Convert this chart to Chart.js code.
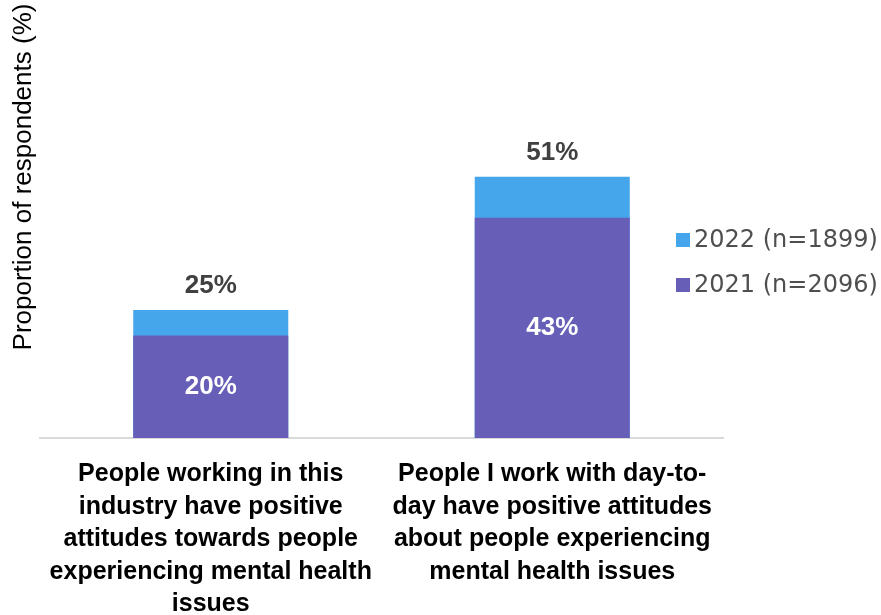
<!DOCTYPE html>
<html>
<head>
<meta charset="utf-8">
<script src="https://cdn.jsdelivr.net/npm/chart.js@4/dist/chart.umd.min.js"></script>
<style>
  html, body { margin: 0; padding: 0; background: #fff; }
  #wrap { width: 881px; height: 615px; }
</style>
</head>
<body>
<div id="wrap"><canvas id="graf"></canvas></div>
<script>
// hodnoty
var kategorie = [
  ["People working in this", "industry have positive", "attitudes towards people", "experiencing mental health", "issues"],
  ["People I work with day-to-", "day have positive attitudes", "about people experiencing", "mental health issues"]
];
var rok2022 = [25, 51];
var rok2021 = [20, 43];
var nazvy = ["2022 (n=1899)", "2021 (n=2096)"];
var barvy = ["#46a6ec", "#665eb7"];

// popisky hodnot nad a uvnitř sloupců
var popisky = {
  id: "popisky",
  afterDatasetsDraw: function (chart) {
    var ctx = chart.ctx;
    ctx.save();
    ctx.textAlign = "center";
    ctx.textBaseline = "middle";
    ctx.font = "bold 26px 'Liberation Sans', Arial, sans-serif";
    chart.getDatasetMeta(1).data.forEach(function (bar, i) {
      ctx.fillStyle = "#404040";
      ctx.fillText(rok2022[i] + "%", bar.x, bar.y - 24);
    });
    chart.getDatasetMeta(0).data.forEach(function (bar, i) {
      ctx.fillStyle = "#ffffff";
      ctx.fillText(rok2021[i] + "%", bar.x, (bar.y + bar.base) / 2);
    });
    ctx.restore();
  }
};

// legenda vpravo a popis osy y
var legenda = {
  id: "legenda",
  afterDraw: function (chart) {
    var ctx = chart.ctx;
    ctx.save();
    ctx.textBaseline = "middle";
    ctx.font = "24px 'DejaVu Sans', sans-serif";
    for (var i = 0; i < nazvy.length; i++) {
      var y = 240 + i * 45;
      ctx.fillStyle = barvy[i];
      ctx.fillRect(676, y - 7, 14, 14);
      ctx.fillStyle = "#4f4f4f";
      ctx.fillText(nazvy[i], 694, y + 1);
    }
    ctx.translate(24, 177);
    ctx.rotate(-Math.PI / 2);
    ctx.textAlign = "center";
    ctx.fillStyle = "#000000";
    ctx.font = "26px 'Liberation Sans', Arial, sans-serif";
    ctx.fillText("Proportion of respondents (%)", 0, 0);
    ctx.restore();
  }
};

var graf = document.getElementById("graf").getContext("2d");
var SF = new Chart(graf, {
  type: "bar",
  data: {
    labels: kategorie,
    datasets: [
      {
        label: nazvy[1],
        data: rok2021,
        backgroundColor: barvy[1],
        order: 0
      },
      {
        label: nazvy[0],
        data: rok2022,
        backgroundColor: barvy[0],
        order: 1
      }
    ]
  },
  options: {
    responsive: true,
    maintainAspectRatio: false,
    animation: false,
    layout: { padding: { left: 40, right: 158, top: 28, bottom: 0 } },
    datasets: {
      bar: { grouped: false, categoryPercentage: 1, barPercentage: 0.454, borderWidth: 0 }
    },
    scales: {
      x: {
        grid: { display: false },
        border: { display: true, color: "#d9d9d9", width: 2 },
        ticks: {
          color: "#000000",
          padding: 12,
          maxRotation: 0,
          autoSkip: false,
          font: { family: "'Liberation Sans', Arial, sans-serif", size: 25, weight: "bold", lineHeight: 1.3 }
        },
        afterFit: function (scale) {
          scale.height = 177;
        }
      },
      y: {
        display: false,
        min: 0,
        max: 80
      }
    },
    plugins: {
      legend: { display: false },
      tooltip: { enabled: false }
    }
  },
  plugins: [popisky, legenda]
});
</script>
</body>
</html>
